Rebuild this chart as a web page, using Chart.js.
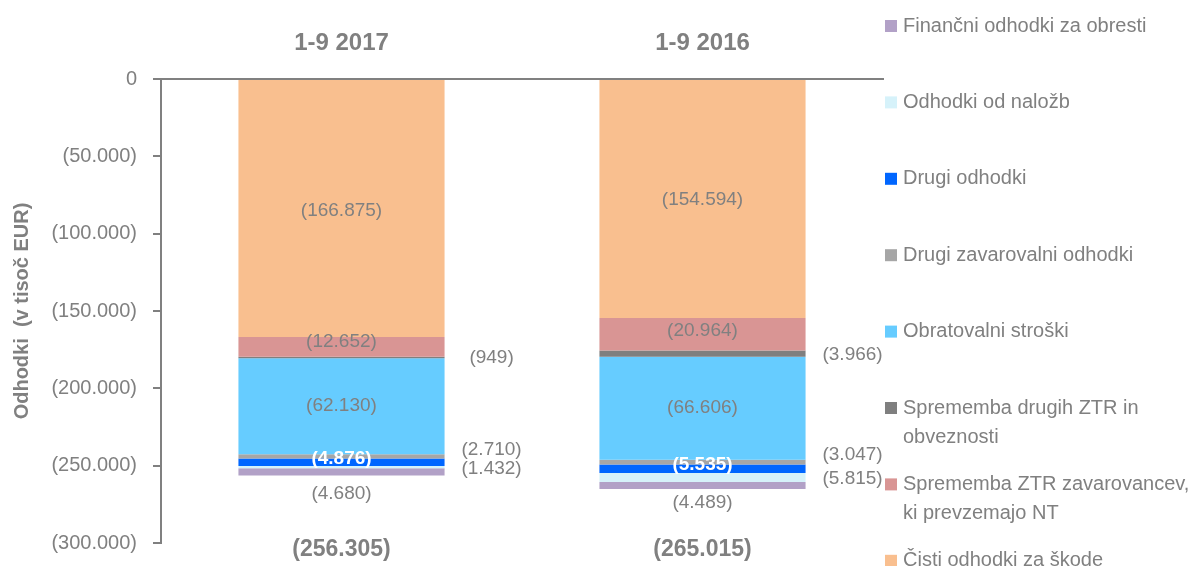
<!DOCTYPE html>
<html>
<head>
<meta charset="utf-8">
<script src="https://cdn.jsdelivr.net/npm/chart.js@4.4.0/dist/chart.umd.min.js"></script>
<style>
html, body { margin: 0; padding: 0; background: #fff; }
#wrap { width: 1191px; height: 566px; position: relative; }
</style>
</head>
<body>
<div id="wrap"><canvas id="grafico"></canvas></div>
<script>
// obdobja (kategorije)
const obdobja = ["1-9 2017", "1-9 2016"];

// odhodki v tisoč EUR, [1-9 2017, 1-9 2016]
const cistiOdhodkiZaSkode = [-166875, -154594];
const spremembaZtrNt = [-12652, -20964];
const spremembaDrugihZtr = [-949, -3966];
const obratovalniStroski = [-62130, -66606];
const drugiZavarovalniOdhodki = [-2710, -3047];
const drugiOdhodki = [-4876, -5535];
const odhodkiOdNalozb = [-1432, -5815];
const financniOdhodki = [-4680, -4489];

// skupaj (kot na sliki)
const skupaj = [-256305, -265015];

// oznake na osi y
const yOznake = [0, -50000, -100000, -150000, -200000, -250000, -300000];

const SIVA = "#808080";

// formato con puntos de miles y parentesis para negativos
function formato(v) {
    const s = String(Math.abs(Math.round(v))).replace(/\B(?=(\d{3})+(?!\d))/g, ".");
    return v < 0 ? "(" + s + ")" : s;
}

// series: nombre (lineas de leyenda), datos, color, donde va la etiqueta
const series = [
    { lineas: ["Čisti odhodki za škode"], data: cistiOdhodkiZaSkode, color: "#F9BF8F", pos: "centro", dy: [2, 1] },
    { lineas: ["Sprememba ZTR zavarovancev,", "ki prevzemajo NT"], data: spremembaZtrNt, color: "#D99594", pos: "centro", dy: [-5, -4] },
    { lineas: ["Sprememba drugih ZTR in", "obveznosti"], data: spremembaDrugihZtr, color: "#7F7F7F", pos: "derecha", dy: [0, 1] },
    { lineas: ["Obratovalni stroški"], data: obratovalniStroski, color: "#66CCFF", pos: "centro" },
    { lineas: ["Drugi zavarovalni odhodki"], data: drugiZavarovalniOdhodki, color: "#A6A6A6", pos: "derecha", dy: [-7, -7] },
    { lineas: ["Drugi odhodki"], data: drugiOdhodki, color: "#0066FF", pos: "centro", blanco: true, dy: [-3, -4] },
    { lineas: ["Odhodki od naložb"], data: odhodkiOdNalozb, color: "#D6F2FA", pos: "derecha", dy: [2, 1] },
    { lineas: ["Finančni odhodki za obresti"], data: financniOdhodki, color: "#B2A1C7", pos: "abajo", dy: [2, -2] }
];

// etiquetas de valores, totales y leyenda
const etiquetas = {
    id: "etiquetas",
    afterDraw(chart) {
        const ctx = chart.ctx;
        ctx.save();
        ctx.textBaseline = "middle";
        chart.data.datasets.forEach((ds, i) => {
            const s = series[i];
            chart.getDatasetMeta(i).data.forEach((bar, j) => {
                const dy = s.dy ? s.dy[j] : 0;
                let x = bar.x, y = (bar.y + bar.base) / 2 + dy;
                if (s.pos === "derecha") x = bar.x + bar.width / 2 + 47;
                if (s.pos === "abajo") y = Math.max(bar.y, bar.base) + 16 + dy;
                ctx.textAlign = "center";
                ctx.fillStyle = s.blanco ? "#fff" : SIVA;
                ctx.font = (s.blanco ? "bold " : "") + "19px 'Liberation Sans', Arial, sans-serif";
                ctx.fillText(formato(ds.data[j]), x, y);
            });
        });
        // totales
        const meta0 = chart.getDatasetMeta(0);
        ctx.font = "bold 23px 'Liberation Sans', Arial, sans-serif";
        ctx.fillStyle = SIVA;
        ctx.textAlign = "center";
        skupaj.forEach((t, j) => ctx.fillText(formato(t), meta0.data[j].x, 550));
        // leyenda (orden inverso)
        ctx.textAlign = "left";
        ctx.font = "20px 'Liberation Sans', Arial, sans-serif";
        const inv = series.slice().reverse();
        inv.forEach((s, k) => {
            const y0 = 26 + 76.4 * k;
            ctx.fillStyle = s.color;
            ctx.fillRect(885, y0 - 6, 12, 12);
            ctx.fillStyle = SIVA;
            s.lineas.forEach((l, n) => ctx.fillText(l, 903, y0 + n * 29));
        });
        ctx.restore();
    }
};

const ctx = document.querySelector("#grafico").getContext("2d");
new Chart(ctx, {
    type: "bar",
    data: {
        labels: obdobja,
        datasets: series.map(s => ({
            label: s.lineas.join(" "),
            data: s.data,
            backgroundColor: s.color,
            borderWidth: 0,
            barPercentage: 0.571,
            categoryPercentage: 1
        }))
    },
    options: {
        responsive: true,
        maintainAspectRatio: false,
        animation: false,
        devicePixelRatio: 1,
        layout: { autoPadding: false, padding: { left: 0, right: 308, top: 0, bottom: 23 } },
        plugins: { legend: { display: false }, tooltip: { enabled: false } },
        scales: {
            x: {
                stacked: true,
                position: "top",
                grid: { display: false, drawTicks: false },
                border: { display: true, color: SIVA, width: 2 },
                ticks: {
                    color: SIVA,
                    font: { family: "'Liberation Sans', Arial, sans-serif", size: 24, weight: "bold" },
                    padding: 21,
                    maxRotation: 0
                },
                afterFit: s => { s.height = 79; s.paddingLeft = 0; s.paddingRight = 0; }
            },
            y: {
                stacked: true,
                min: -300000,
                max: 0,
                afterBuildTicks: s => { s.ticks = yOznake.map(v => ({ value: v })); },
                grid: { drawOnChartArea: false, drawTicks: true, tickLength: 8, color: SIVA, lineWidth: 2 },
                border: { display: true, color: SIVA, width: 2 },
                ticks: {
                    color: SIVA,
                    padding: 16,
                    font: { family: "'Liberation Sans', Arial, sans-serif", size: 20 },
                    callback: v => formato(v)
                },
                title: {
                    display: true,
                    text: "Odhodki  (v tisoč EUR)",
                    color: SIVA,
                    padding: { top: 10 },
                    font: { family: "'Liberation Sans', Arial, sans-serif", size: 20, weight: "bold" }
                },
                afterFit: s => { s.width = 161; s.paddingTop = 0; s.paddingBottom = 0; }
            }
        }
    },
    plugins: [etiquetas]
});
</script>
</body>
</html>
